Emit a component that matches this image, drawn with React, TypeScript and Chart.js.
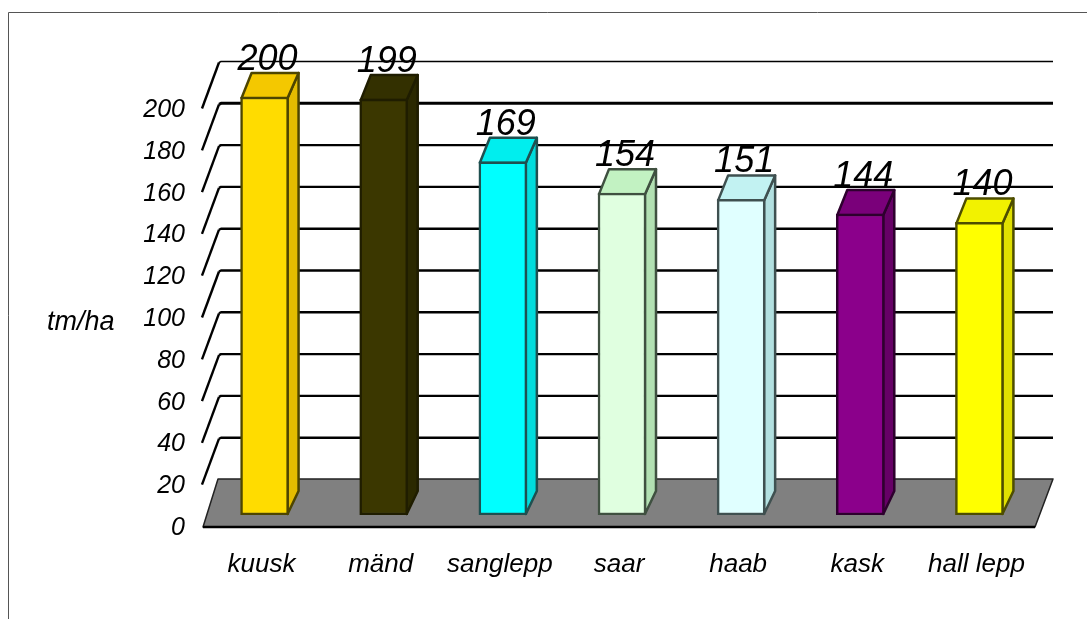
import React, { useEffect, useRef } from "react";
import { Chart, registerables } from "chart.js";

Chart.register(...registerables);

const categories = ["kuusk", "mänd", "sanglepp", "saar", "haab", "kask", "hall lepp"];
const values = [200, 199, 169, 154, 151, 144, 140];

const frontColors = ["#FFDC00", "#3B3700", "#00FFFF", "#E0FFE0", "#E0FFFF", "#8B008B", "#FFFF00"];
const topColors = ["#F4C800", "#333000", "#00EEEE", "#C2F2C2", "#C2F2F2", "#7A007A", "#F2F200"];
const sideColors = ["#E4BC00", "#2B2900", "#00DDDD", "#B2E0B2", "#B2E0E0", "#660066", "#E0E000"];
const edgeColors = ["#4D4500", "#1F1D00", "#1F5050", "#3F5040", "#3F5050", "#2E002E", "#4D4D00"];

const FONT = '"Liberation Sans", Arial, sans-serif';
const DX = 11;
const DY = 24;

const threeD = {
  id: "threeD",
  beforeDatasetsDraw(chart: any) {
    const { ctx, chartArea: a, scales } = chart;
    const y = scales.y;
    ctx.save();
    // frame
    ctx.strokeStyle = "#555555";
    ctx.lineWidth = 1;
    ctx.beginPath();
    ctx.moveTo(8.5, 619);
    ctx.lineTo(8.5, 12.5);
    ctx.lineTo(1087, 12.5);
    ctx.stroke();

    const x0 = a.left - 2;
    const x1 = a.right - 4;
    const base = y.getPixelForValue(0);
    // gridlines with wall diagonals
    ctx.strokeStyle = "#000000";
    ctx.lineJoin = "round";
    y.ticks.forEach((t: any) => {
      if (t.value === 0) return;
      const py = y.getPixelForValue(t.value);
      const backY = py - 35.5;
      ctx.lineWidth = 2.4;
      ctx.beginPath();
      ctx.moveTo(x0 - 1, backY + 47);
      ctx.lineTo(x0 + 16, backY + 1);
      ctx.stroke();
      ctx.lineWidth = t.value === 200 ? 1.5 : t.value === 180 ? 3 : 2.4;
      ctx.beginPath();
      ctx.moveTo(x0 + 16, backY + 1);
      ctx.lineTo(x0 + 18, backY);
      ctx.lineTo(x1 + 18, backY);
      ctx.stroke();
    });
    // floor
    ctx.fillStyle = "#808080";
    ctx.beginPath();
    ctx.moveTo(x0, base + 12);
    ctx.lineTo(x1, base + 12);
    ctx.lineTo(x1 + 18, base - 36);
    ctx.lineTo(x0 + 15, base - 36);
    ctx.closePath();
    ctx.fill();
    ctx.strokeStyle = "#222222";
    ctx.lineWidth = 1.5;
    ctx.stroke();
    ctx.strokeStyle = "#000000";
    ctx.lineWidth = 2.5;
    ctx.beginPath();
    ctx.moveTo(x0, base + 12);
    ctx.lineTo(x1, base + 12);
    ctx.stroke();

    // bar top and side faces
    const meta = chart.getDatasetMeta(0);
    meta.data.forEach((bar: any, i: number) => {
      const w = bar.width;
      const l = bar.x - w / 2 + 1;
      const r = bar.x + w / 2 - 1;
      const t = bar.y + 1;
      const b = bar.base - 1;
      const backTop = bar.y - DY;
      ctx.strokeStyle = edgeColors[i];
      ctx.lineWidth = 2.5;
      ctx.lineJoin = "round";
      ctx.fillStyle = sideColors[i];
      ctx.beginPath();
      ctx.moveTo(r, t);
      ctx.lineTo(r + DX, backTop);
      ctx.lineTo(r + DX, bar.base - DY);
      ctx.lineTo(r, b);
      ctx.closePath();
      ctx.fill();
      ctx.stroke();
      ctx.fillStyle = topColors[i];
      ctx.beginPath();
      ctx.moveTo(l, t);
      ctx.lineTo(l + DX - 1, backTop);
      ctx.lineTo(r + DX, backTop);
      ctx.lineTo(r, t);
      ctx.closePath();
      ctx.fill();
      ctx.stroke();
    });
    ctx.restore();
  },
  afterDatasetsDraw(chart: any) {
    const { ctx } = chart;
    ctx.save();
    ctx.fillStyle = "#000000";
    ctx.textAlign = "center";
    ctx.textBaseline = "alphabetic";
    ctx.font = `italic 36px ${FONT}`;
    chart.getDatasetMeta(0).data.forEach((bar: any, i: number) => {
      ctx.fillText(String(values[i]), bar.x + 3, bar.y - 27);
    });
    ctx.font = `italic 27px ${FONT}`;
    ctx.textAlign = "left";
    ctx.textBaseline = "middle";
    ctx.fillText("tm/ha", 47, 322);
    ctx.restore();
  },
};

export default function App() {
  const ref = useRef<HTMLCanvasElement>(null);
  useEffect(() => {
    if (!ref.current) return;
    const chart = new Chart(ref.current, {
      type: "bar",
      data: {
        labels: categories,
        datasets: [
          {
            data: values,
            backgroundColor: frontColors,
            borderColor: edgeColors,
            borderWidth: 2.5,
            borderSkipped: false,
            barThickness: 48,
          },
        ],
      },
      plugins: [threeD],
      options: {
        animation: false,
        responsive: false,
        layout: { padding: { top: 97, right: 48, left: 0, bottom: 0 } },
        plugins: { legend: { display: false }, tooltip: { enabled: false } },
        scales: {
          x: {
            type: "category",
            grid: { display: false },
            border: { display: false },
            ticks: {
              color: "#000000",
              font: { family: FONT, size: 26, style: "italic" },
              maxRotation: 0,
              autoSkip: false,
              padding: 26,
              labelOffset: -3,
            },
            afterFit(scale: any) {
              scale.height = 104;
            },
          },
          y: {
            type: "linear",
            min: 0,
            max: 200,
            grid: { display: false },
            border: { display: false },
            ticks: {
              stepSize: 20,
              color: "#000000",
              font: { family: FONT, size: 25, style: "italic" },
              padding: 12,
              labelOffset: 13,
            },
            afterFit(scale: any) {
              scale.width = 205;
            },
          },
        },
      },
    } as any);
    return () => chart.destroy();
  }, []);
  return (
    <canvas
      ref={ref}
      width={1087}
      height={619}
      style={{ position: "absolute", left: 0, top: 0, width: 1087, height: 619 }}
    />
  );
}
